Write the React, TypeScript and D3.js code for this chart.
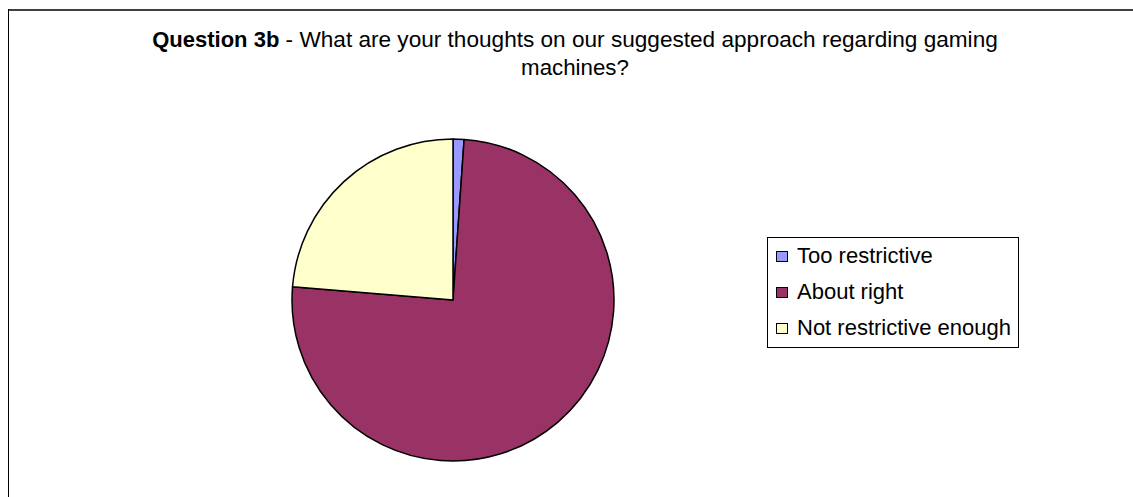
import React from "react";
import * as d3 from "d3";

const categories = ["Too restrictive", "About right", "Not restrictive enough"];
const values = [1.1, 75.2, 23.7];
const colors = ["#9999FF", "#993366", "#FFFFCC"];
const titleBold = "Question 3b";
const titleRest = " - What are your thoughts on our suggested approach regarding gaming";
const titleLine2 = "machines?";

const W = 1133;
const H = 497;

export default function App() {
  const cx = 453;
  const cy = 300;
  const r = 161;
  const pie = d3.pie<number>().sort(null).startAngle(0).endAngle(2 * Math.PI);
  const arcs = pie(values);
  const arc = d3.arc<d3.PieArcDatum<number>>().innerRadius(0).outerRadius(r);

  const legendX = 767;
  const legendY = 237;
  const legendW = 251;
  const legendH = 110;
  const rowY = d3.scaleLinear().domain([0, 2]).range([263, 335]);

  const font = "Arial, 'Liberation Sans', sans-serif";

  return (
    <svg
      width={W}
      height={H}
      style={{ position: "absolute", left: 0, top: 0, background: "#fff" }}
      fontFamily={font}
    >
      <rect x={0} y={0} width={W} height={H} fill="#fff" />
      <line x1={8} x2={W} y1={10} y2={10} stroke="#404040" strokeWidth={2} />
      <line x1={8.5} x2={8.5} y1={9} y2={H} stroke="#000" strokeWidth={1} />

      <text x={575} y={47} textAnchor="middle" fontSize={22} fill="#000">
        <tspan fontWeight="bold">{titleBold}</tspan>
        <tspan fontSize={22.6}>{titleRest}</tspan>
      </text>
      <text x={575} y={75} textAnchor="middle" fontSize={22.3} fill="#000">
        {titleLine2}
      </text>

      <g transform={`translate(${cx},${cy})`}>
        {arcs.map((a, i) => (
          <path
            key={categories[i]}
            d={arc(a) || ""}
            fill={colors[i]}
            stroke="#000"
            strokeWidth={1.5}
            strokeLinejoin="round"
          />
        ))}
      </g>

      <rect
        x={legendX + 0.5}
        y={legendY + 0.5}
        width={legendW}
        height={legendH}
        fill="#fff"
        stroke="#000"
        strokeWidth={1}
      />
      {categories.map((c, i) => (
        <g key={c}>
          <rect
            x={776.5}
            y={rowY(i) - 11.5}
            width={11}
            height={10}
            fill={colors[i]}
            stroke="#000"
            strokeWidth={1}
          />
          <text x={797} y={rowY(i)} fontSize={22} fill="#000">
            {c}
          </text>
        </g>
      ))}
    </svg>
  );
}
